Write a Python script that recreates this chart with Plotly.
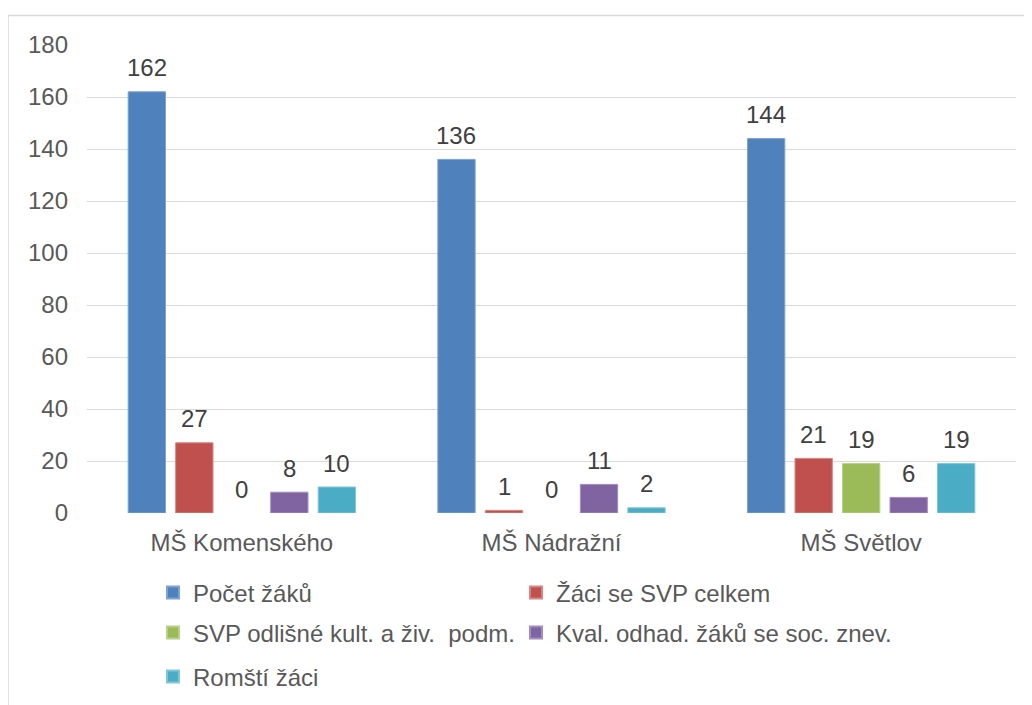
import plotly.graph_objects as go

categories = ["MŠ Komenského", "MŠ Nádražní", "MŠ Světlov"]
series_names = [
    "Počet žáků",
    "Žáci se SVP celkem",
    "SVP odlišné kult. a živ.  podm.",
    "Kval. odhad. žáků se soc. znev.",
    "Romští žáci",
]
pocet_zaku = [162, 136, 144]
zaci_svp = [27, 1, 21]
svp_odlisne = [0, 0, 19]
kval_odhad = [8, 11, 6]
romsti_zaci = [10, 2, 19]
series_values = [pocet_zaku, zaci_svp, svp_odlisne, kval_odhad, romsti_zaci]
colors = ["#4F81BD", "#C0504D", "#9BBB59", "#8064A2", "#4BACC6"]
line_colors = ["#7FA3D1", "#D68582", "#B8D08A", "#A38FBF", "#80C6D9"]
y_ticks = [0, 20, 40, 60, 80, 100, 120, 140, 160, 180]

W, H = 1032, 705
OFF = 8  # page body margin
ML, MR, MT, MB = 87 - OFF, 24, 44.5 - OFF, 200.3

pitch = 0.1534
bw = 0.1205
legend_ids = ["legend", "legend2", "legend3", "legend4", "legend5"]
# legend slot (column, row centre in page px)
legend_col = [0, 1, 0, 1, 0]
legend_row_y = [593, 593, 633, 633, 677]

xs = list(range(len(categories)))
fig = go.Figure()
annotations = []
for j, (name, vals) in enumerate(zip(series_names, series_values)):
    off = -2.5 * pitch + j * pitch + (pitch - bw) / 2
    fig.add_trace(go.Bar(
        x=xs, y=vals, name=name, width=bw, offset=off,
        marker=dict(color=colors[j],
                    line=dict(color=line_colors[j],
                              width=[1 if v > 0 else 0 for v in vals])),
        legend=legend_ids[j], hoverinfo="y+name",
    ))
    for i, v in zip(xs, vals):
        annotations.append(dict(
            x=i + off + bw / 2, y=v, xref="x", yref="y", text=str(v),
            showarrow=False, yanchor="bottom", yshift=8.5,
            font=dict(family="Liberation Sans, Arial", size=24, color="#404040"),
        ))

pw = W - ML - MR
ph = H - MT - MB
# outer chart border (light gray frame)
fig.add_shape(type="rect", xref="paper", yref="paper",
              x0=(8 - OFF - ML) / pw, x1=(W + 20 - ML) / pw,
              y0=(H - MB - (H + 20)) / ph, y1=(H - MB - (15 - OFF)) / ph,
              line=dict(color="#D9D9D9", width=1.5), fillcolor="rgba(0,0,0,0)",
              layer="below")

font = dict(family="Liberation Sans, Arial", size=24, color="#595959")
leg_common = dict(orientation="h", xref="container", yref="container",
                  xanchor="left", yanchor="middle", font=font,
                  bgcolor="rgba(0,0,0,0)", itemsizing="constant")
col_x = [145, 145 + 363]
legends = {}
for j, lid in enumerate(legend_ids):
    legends[lid] = dict(x=col_x[legend_col[j]] / W,
                        y=1 - (legend_row_y[j] - OFF) / H, **leg_common)

fig.update_layout(
    width=W, height=H,
    margin=dict(l=ML, r=MR, t=MT, b=MB),
    paper_bgcolor="white", plot_bgcolor="white",
    barmode="overlay",
    font=font,
    showlegend=True,
    xaxis=dict(range=[-0.5, 2.5], tickvals=xs, ticktext=categories,
               showgrid=False, zeroline=False, showline=False, ticks="",
               ticklabelstandoff=13, fixedrange=True),
    yaxis=dict(range=[0, 180], tickvals=y_ticks, showgrid=True,
               gridcolor="#D9D9D9", gridwidth=1.3, zeroline=False,
               showline=False, ticks="", ticklabelstandoff=18, fixedrange=True),
    annotations=annotations,
    **legends,
)

fig.write_html("out.html")
